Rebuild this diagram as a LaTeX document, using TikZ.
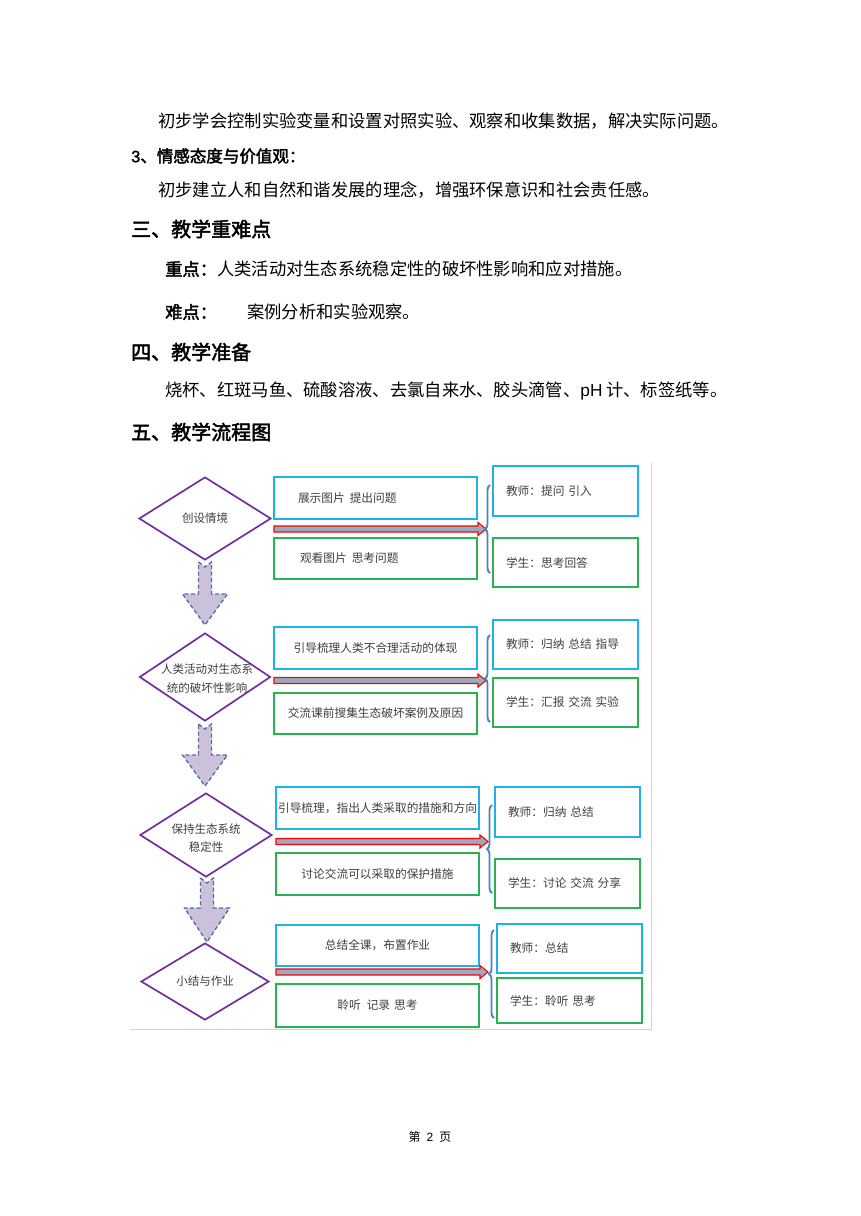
\documentclass[tikz,border=0pt]{standalone}
\usepackage{fontspec}
\setmainfont{Liberation Sans}
\newfontfamily\cjk{Noto Sans CJK SC}
\newfontfamily\cjkb{Noto Sans CJK SC}[FakeBold=2.2]
\usetikzlibrary{shapes.geometric,decorations.pathreplacing,calc}
\definecolor{purp}{RGB}{112,48,160}
\definecolor{bbox}{RGB}{30,178,232}
\definecolor{gbox}{RGB}{40,178,80}
\definecolor{brc}{RGB}{79,129,189}
\definecolor{arrb}{RGB}{80,110,155}
\definecolor{arrf}{RGB}{204,193,218}
\definecolor{redf}{RGB}{150,172,195}
\definecolor{txt}{RGB}{64,64,64}
\definecolor{frm}{RGB}{210,210,210}
\tikzset{
  body/.style={anchor=west,inner sep=0pt,font=\cjk\fontsize{17.3}{20}\selectfont,text=black},
  head/.style={anchor=west,inner sep=0pt,font=\cjkb\fontsize{20}{24}\selectfont,text=black},
  sub/.style={anchor=west,inner sep=0pt,font=\cjkb\fontsize{16.5}{20}\selectfont,text=black},
  dia/.style={draw=purp,line width=1.7pt,diamond,inner sep=0pt,fill=white},
  lbl/.style={font=\cjk\fontsize{11.5}{20}\selectfont,text=txt,align=center,inner sep=0pt},
  lbox/.style={draw,line width=1.3pt,minimum width=203pt,inner sep=0pt,
    font=\cjk\fontsize{11.7}{14}\selectfont,text=txt,align=center},
  rbox/.style={draw,line width=1.3pt,text width=119pt,inner xsep=13pt,inner ysep=0pt,
    font=\cjk\fontsize{11.7}{14}\selectfont,text=txt,align=left},
  blu/.style={draw=bbox},
  grn/.style={draw=gbox},
  downarr/.style={draw=arrb,fill=arrf,line width=1.3pt,dashed,dash pattern=on 4pt off 2.5pt},
  redarr/.style={draw=red,fill=redf,line width=1.1pt},
  brace/.style={draw=brc,line width=1.8pt,decorate,decoration={brace,amplitude=5pt}},
}
\newcommand{\flowarrow}[4]{%
  \draw[downarr] (#1-6.5,#2) -- (#1,#2+5) -- (#1+6.5,#2) -- (#1+6.5,#3) -- (#1+22.5,#3)
    -- (#1,#4) -- (#1-22.5,#3) -- (#1-6.5,#3) -- cycle;}
\newcommand{\redarrow}[3]{%
  \draw[redarr] (#1,#3-3) -- (#2-8,#3-3) -- (#2-8,#3-6.5) -- (#2,#3) -- (#2-8,#3+6.5)
    -- (#2-8,#3+3) -- (#1,#3+3) -- cycle;}
\begin{document}
\begin{tikzpicture}[x=1pt,y=-1pt]
\useasboundingbox[fill=white] (0,0) rectangle (860,1216);

% ---- text part ----
\node[body] (t1) at (158,121) {初步学会控制实验变量和设置对照实验、观察和收集数据，解决实际问题。};
\node[sub] (t2) at (131,156) {\fontspec{Liberation Sans}[FakeBold=1.5]3\cjkb 、情感态度与价值观：};
\node[body] (t3) at (158,190) {初步建立人和自然和谐发展的理念，增强环保意识和社会责任感。};
\node[head] (h3) at (131,229) {三、教学重难点};
\node[body] (t4) at (165,269) {{\cjkb 重点：}人类活动对生态系统稳定性的破坏性影响和应对措施。};
\node[body] (t5) at (165,312) {{\cjkb 难点：}};
\node[body] (t6) at (247,312) {案例分析和实验观察。};
\node[head] (h4) at (131,352) {四、教学准备};
\node[body] (t7) at (165,391) {烧杯、红斑马鱼、硫酸溶液、去氯自来水、胶头滴管、{\fontspec{Liberation Sans}pH} 计、标签纸等。};
\node[head] (h5) at (131,432) {五、教学流程图};

% ---- frame edges ----
\draw[frm,line width=0.8pt] (130,1029) -- (651,1029) -- (651,463);

% ---- down arrows ----
\flowarrow{205}{562}{594}{625}
\flowarrow{205}{724}{755}{786}
\flowarrow{207}{878}{908}{942}

% ---- diamonds ----
\node[dia,minimum width=132pt,minimum height=83pt] (d1) at (205,518.5) {};
\node[lbl] at (d1.center) {创设情境};
\node[dia,minimum width=131pt,minimum height=88pt] (d2) at (205,677) {};
\node[lbl] at ($(d2.center)+(2,2)$) {人类活动对生态系\\[-1pt]统的破坏性影响};
\node[dia,minimum width=132pt,minimum height=84pt] (d3) at (206,835) {};
\node[lbl,font=\cjk\fontsize{11.5}{18.5}\selectfont] at ($(d3.center)+(0,3)$) {保持生态系统\\稳定性};
\node[dia,minimum width=128pt,minimum height=77pt] (d4) at (205,981.5) {};
\node[lbl] at (d4.center) {小结与作业};

% ---- row 1 ----
\node[lbox,blu,minimum height=42pt] (l1a) at (375.5,498) {\makebox[155pt][l]{展示图片\hspace{5pt}提出问题}};
\node[lbox,grn,minimum height=41pt] (l1b) at (375.5,558.5) {\makebox[155pt][l]{\hspace{2pt}观看图片\hspace{5pt}思考问题}};
\node[rbox,blu,minimum height=50pt] (r1a) at (565.5,491) {教师：提问 引入};
\node[rbox,grn,minimum height=49pt] (r1b) at (565.5,562.5) {学生：思考回答};
\redarrow{274}{486}{529}
\draw[brace] (490,573) -- (490,485);

% ---- row 2 ----
\node[lbox,blu,minimum height=42pt] (l2a) at (375.5,648) {引导梳理人类不合理活动的体现};
\node[lbox,grn,minimum height=41pt] (l2b) at (375.5,713.5) {交流课前搜集生态破坏案例及原因};
\node[rbox,blu,minimum height=49pt] (r2a) at (565.5,644.5) {教师：归纳 总结 指导\\[3pt]};
\node[rbox,grn,minimum height=49pt] (r2b) at (565.5,702.5) {学生：汇报 交流 实验};
\redarrow{274}{486}{680.5}
\draw[brace] (490,722) -- (490,635);

% ---- row 3 ----
\node[lbox,blu,minimum height=42pt] (l3a) at (377.5,808) {引导梳理，指出人类采取的措施和方向};
\node[lbox,grn,minimum height=42pt] (l3b) at (377.5,874) {讨论交流可以采取的保护措施};
\node[rbox,blu,minimum height=50pt] (r3a) at (567.5,812) {教师：归纳 总结\\[4pt]};
\node[rbox,grn,minimum height=49pt] (r3b) at (567.5,883.5) {学生：讨论 交流 分享};
\redarrow{276}{488}{841.5}
\draw[brace] (492,893) -- (492,805);

% ---- row 4 ----
\node[lbox,blu,minimum height=41pt] (l4a) at (377.5,945.5) {总结全课，布置作业};
\node[lbox,grn,minimum height=43pt] (l4b) at (377.5,1005.5) {聆听\hspace{6pt}记录\hspace{4pt}思考};
\node[rbox,blu,minimum height=49pt] (r4a) at (569.5,948.5) {教师：总结};
\node[rbox,grn,minimum height=45pt] (r4b) at (569.5,1000.5) {学生：聆听 思考};
\redarrow{276}{488}{972}
\draw[brace] (494,1018) -- (494,930);

% ---- page number ----
\node[inner sep=0pt,font=\cjk\fontsize{12}{14}\selectfont,text=black] (pg) at (430,1137) {第\hspace{6pt}{\fontspec{Liberation Sans}2}\hspace{6pt}页};
\end{tikzpicture}
\end{document}
